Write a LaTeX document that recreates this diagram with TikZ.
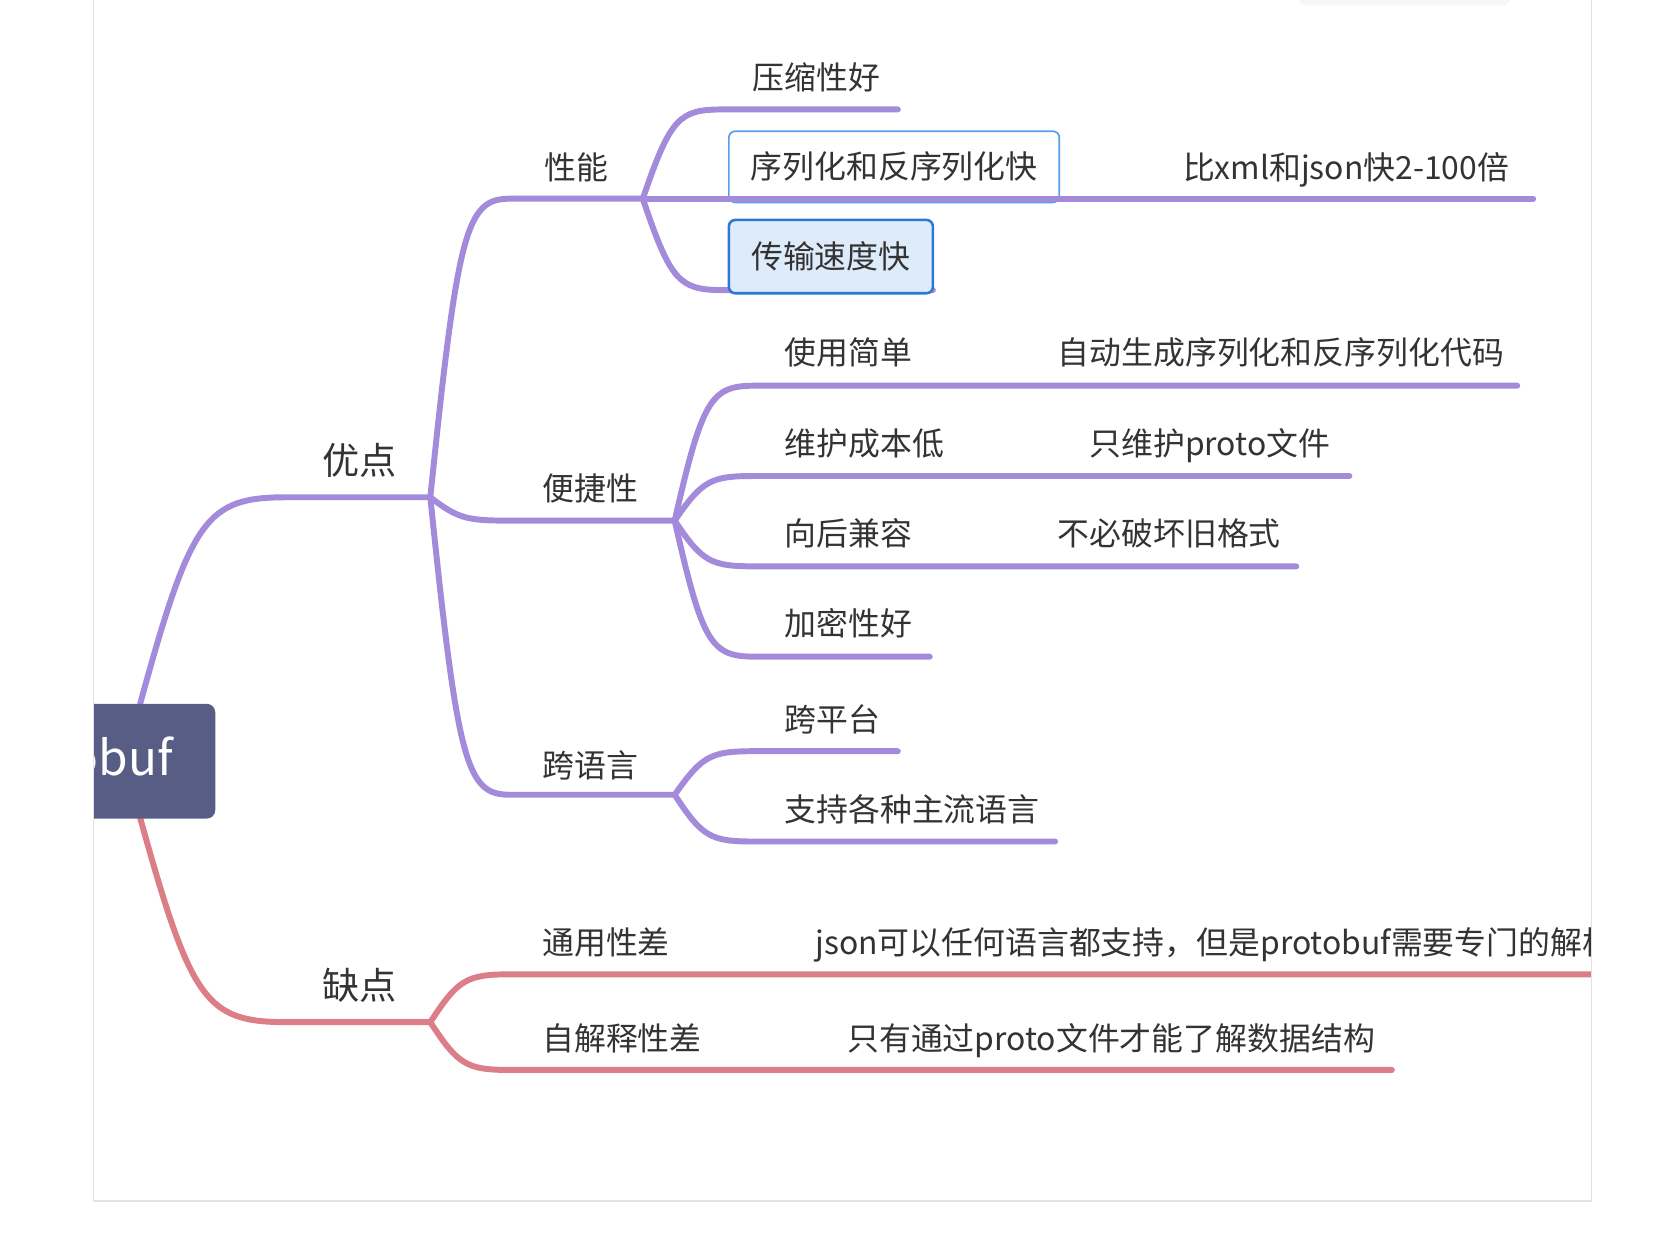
\documentclass[tikz,border=0pt]{standalone}
\usepackage{fontspec}
\setmainfont{Noto Sans CJK SC}
\usepackage{xcolor}
\usepackage{tikz}

\definecolor{mmPurple}{HTML}{A48ADB}
\definecolor{mmRose}{HTML}{DC7E87}
\definecolor{mmRoot}{HTML}{575D84}
\definecolor{mmText}{HTML}{333333}
\definecolor{mmBlue}{HTML}{5A9DEB}
\definecolor{mmBlueDark}{HTML}{2C79D5}
\definecolor{mmBlueFill}{HTML}{DDEBFB}
\definecolor{mmFrame}{HTML}{E2E2E2}

\begin{document}
\begin{tikzpicture}[x=0.5pt,y=-0.5pt,
    purp/.style={draw=mmPurple,line width=2.8pt,line cap=round},
    rose/.style={draw=mmRose,line width=2.8pt,line cap=round},
    lbl/.style={anchor=west,inner sep=0pt,text=mmText,
        font=\fontsize{15pt}{18pt}\selectfont,text height=13.2pt,text depth=1.8pt},
    big/.style={lbl,font=\fontsize{17.5pt}{21pt}\selectfont,text height=15.4pt,text depth=2.1pt},
    root/.style={anchor=north east,fill=mmRoot,text=white,rounded corners=4pt,
        minimum height=54pt,inner xsep=20pt,font=\fontsize{22.5pt}{27pt}\selectfont},
    selbox/.style={lbl,anchor=center,rounded corners=3pt,inner xsep=0pt}]
\useasboundingbox (0,0) rectangle (1568,1180);

% faint shadow at the top
\fill[gray!7,rounded corners=4pt] (1222,-8) rectangle (1422,5);

\begin{scope}
\clip (88,-2) rectangle (1498,1130);

% line ends
\coordinate (pb-up) at (132,662);   \coordinate (pb-dn) at (132,770);
\coordinate (adv-l) at (270,468);   \coordinate (adv-r) at (405,468);
\coordinate (dis-l) at (270,962);   \coordinate (dis-r) at (405,962);
\coordinate (perf-l) at (480,187);  \coordinate (perf-r) at (605,187);
\coordinate (conv-l) at (480,490);  \coordinate (conv-r) at (635,490);
\coordinate (xlang-l) at (480,748); \coordinate (xlang-r) at (635,748);
\coordinate (zip-l) at (680,103);   \coordinate (zip-r) at (845,103);
\coordinate (ser-r) at (997,187);   \coordinate (fast-r) at (1443,187);
\coordinate (trans-l) at (680,273); \coordinate (trans-r) at (878,273);
\coordinate (easy-l) at (710,363);  \coordinate (easy-r) at (875,363);
\coordinate (codegen-r) at (1428,363);
\coordinate (maint-l) at (710,448); \coordinate (maint-r) at (905,448);
\coordinate (onlyproto-r) at (1270,448);
\coordinate (compat-l) at (710,533); \coordinate (compat-r) at (875,533);
\coordinate (keepold-r) at (1220,533);
\coordinate (crypt-l) at (710,618); \coordinate (crypt-r) at (875,618);
\coordinate (plat-l) at (710,707);  \coordinate (plat-r) at (845,707);
\coordinate (main-l) at (710,792);  \coordinate (main-r) at (993,792);
\coordinate (gen-l) at (480,917);   \coordinate (gen-r) at (648,917);
\coordinate (jsonall-r) at (1520,917);
\coordinate (self-l) at (480,1007); \coordinate (self-r) at (679,1007);
\coordinate (protoonly-r) at (1310,1007);

\node[selbox,draw=mmBlue,line width=0.8pt,fill=white,
    minimum width=155.5pt,minimum height=33.5pt] (ser) at (841.5,157) {序列化和反序列化快};

% 优点
\draw[purp] (pb-up) .. controls +(48,-175) and +(-76,0) .. (adv-l) -- (adv-r);
\draw[purp] (adv-r) .. controls +(26,-253) and +(-41,0) .. (perf-l) -- (perf-r);
\draw[purp] (adv-r) .. controls +(26,20) and +(-41,0) .. (conv-l) -- (conv-r);
\draw[purp] (adv-r) .. controls +(26,252) and +(-41,0) .. (xlang-l) -- (xlang-r);
\draw[purp] (perf-r) .. controls +(26,-76) and +(-41,0) .. (zip-l) -- (zip-r);
\draw[purp] (perf-r) -- (ser-r) -- (fast-r);
\draw[purp] (perf-r) .. controls +(26,77) and +(-41,0) .. (trans-l) -- (trans-r);
\draw[purp] (conv-r) .. controls +(26,-114) and +(-41,0) .. (easy-l) -- (easy-r) -- (codegen-r);
\draw[purp] (conv-r) .. controls +(26,-38) and +(-41,0) .. (maint-l) -- (maint-r) -- (onlyproto-r);
\draw[purp] (conv-r) .. controls +(26,39) and +(-41,0) .. (compat-l) -- (compat-r) -- (keepold-r);
\draw[purp] (conv-r) .. controls +(26,115) and +(-41,0) .. (crypt-l) -- (crypt-r);
\draw[purp] (xlang-r) .. controls +(26,-37) and +(-41,0) .. (plat-l) -- (plat-r);
\draw[purp] (xlang-r) .. controls +(26,40) and +(-41,0) .. (main-l) -- (main-r);

% 缺点
\draw[rose] (pb-dn) .. controls +(48,173) and +(-76,0) .. (dis-l) -- (dis-r);
\draw[rose] (dis-r) .. controls +(26,-40) and +(-41,0) .. (gen-l) -- (gen-r) -- (jsonall-r);
\draw[rose] (dis-r) .. controls +(26,40) and +(-41,0) .. (self-l) -- (self-r) -- (protoonly-r);

\node[root] (pb) at (203,662) {protobuf};

\node[big] (adv) at (303,433) {优点};
\node[big] (dis) at (303,927) {缺点};
\node[lbl] (perf) at (512,158) {性能};
\node[lbl] (conv) at (510,460) {便捷性};
\node[lbl] (xlang) at (510,720) {跨语言};
\node[lbl] (zip) at (708,73) {压缩性好};
\node[lbl] (fast) at (1113,158) {比xml和json快2-100倍};
\node[selbox,draw=mmBlueDark,line width=1.2pt,fill=mmBlueFill,
    minimum width=96pt,minimum height=34.5pt] (trans) at (782,241.5) {传输速度快};
\node[lbl] (easy) at (738,332) {使用简单};
\node[lbl] (codegen) at (995,332) {自动生成序列化和反序列化代码};
\node[lbl] (maint) at (738,417) {维护成本低};
\node[lbl] (onlyproto) at (1025,417) {只维护proto文件};
\node[lbl] (compat) at (738,502) {向后兼容};
\node[lbl] (keepold) at (995,502) {不必破坏旧格式};
\node[lbl] (crypt) at (738,587) {加密性好};
\node[lbl] (plat) at (738,677) {跨平台};
\node[lbl] (main) at (738,762) {支持各种主流语言};
\node[lbl] (gen) at (510,887) {通用性差};
\node[lbl] (jsonall) at (767,887) {json可以任何语言都支持，但是protobuf需要专门的解析};
\node[lbl] (self) at (510,977) {自解释性差};
\node[lbl] (protoonly) at (797,977) {只有通过proto文件才能了解数据结构};
\end{scope}

% frame
\draw[mmFrame,line width=0.8pt] (88,-2) -- (88,1130) -- (1498,1130) -- (1498,-2);
\end{tikzpicture}
\end{document}
